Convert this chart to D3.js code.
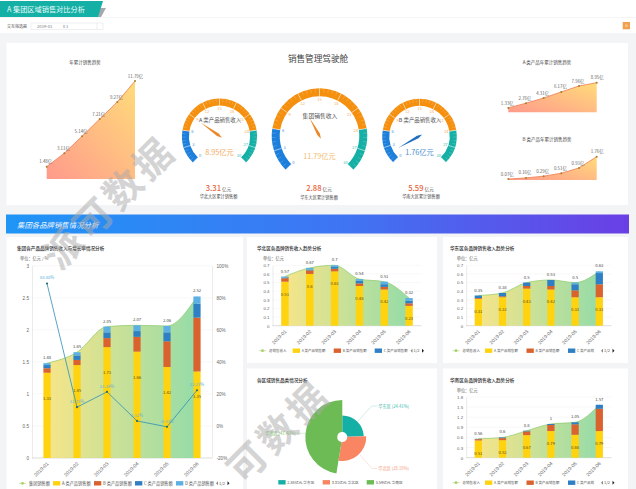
<!DOCTYPE html>
<html><head><meta charset="utf-8">
<script src="https://cdnjs.cloudflare.com/ajax/libs/d3/7.8.5/d3.min.js"></script>
<style>html,body{margin:0;padding:0;background:#f3f4f6;overflow:hidden}svg{display:block;font-family:"Noto Sans CJK SC","Noto Sans",sans-serif}</style>
</head><body><svg id="c" width="636" height="489"></svg>
<script>
const months=["2019-01","2019-02","2019-03","2019-04","2019-05","2019-06"];
const trendTotal=[1.48,3.11,5.14,7.21,9.27,11.79];
const trendTotalLabels=["1.48亿","3.11亿","5.14亿","7.21亿","9.27亿","11.79亿"];
const trendA=[1.33,2.76,4.31,6.17,7.96,8.95];
const trendALabels=["1.33亿","2.76亿","4.31亿","6.17亿","7.96亿","8.95亿"];
const trendB=[0.07,0.16,0.29,0.51,0.91,1.76];
const trendBLabels=["0.07亿","0.16亿","0.29亿","0.51亿","0.91亿","1.76亿"];
const gaugeTicks=[0,3,6,9,12,15,18,21,24,27,30];
const groupA=[1.33,1.45,1.73,1.66,1.42,1.35];
const groupB=[0.07,0.08,0.14,0.23,0.40,0.84];
const groupC=[0.05,0.07,0.09,0.09,0.14,0.22];
const groupD=[0.03,0.05,0.09,0.09,0.10,0.11];
const groupTotal=[1.48,1.65,2.05,2.07,2.06,2.52];
const groupRate=[88.88,11.73,21.29,3.12,-0.53,22.27];
const groupRateLabels=["88.88%","11.73%","21.29%","3.12%","-0.53%","22.27%"];
const northA=[0.51,0.6,0.63,0.46,0.42,0.23];
const northB=[0.04,0.04,0.03,0.03,0.03,0.03];
const northC=[0.01,0.01,0.02,0.03,0.03,0.03];
const northD=[0.01,0.02,0.02,0.02,0.03,0.03];
const northTotal=[0.57,0.67,0.7,0.54,0.51,0.32];
const eastA=[0.31,0.33,0.43,0.42,0.33,0.33];
const eastB=[0.01,0.01,0.03,0.04,0.08,0.15];
const eastC=[0.03,0.04,0.04,0.07,0.07,0.13];
const eastD=[0,0,0,0,0.02,0.02];
const eastTotal=[0.35,0.38,0.5,0.53,0.5,0.63];
const southA=[0.51,0.52,0.67,0.79,0.68,0.79];
const southB=[0.04,0.06,0.11,0.18,0.31,0.66];
const southC=[0.01,0.02,0.02,0.03,0.06,0.12];
const southTotal=[0.56,0.6,0.8,1,1.05,1.57];
const pieValues=[2.88,3.31,5.59];
const pieLabels=["华东区 (24.41%)","华北区 (28.19%)","华南区 (47.40%)"];
const pieLegend=["2.88亿元 华东区","3.31亿元 华北区","5.59亿元 华南区"];

const YEL="#ffd30f",RED="#d9622f",BLU="#2f7fc4",LBL="#5cb0e4",ORG="#f5900f",TEAL="#14b0a6",GBLU="#1d7fdc";
const svg=d3.select("#c"),defs=svg.append("defs");
const g0=defs.append("linearGradient").attr("id","trend").attr("x1",0).attr("x2",1).attr("y1",1).attr("y2",0);
g0.append("stop").attr("offset",0).attr("stop-color","#ff9a8c");g0.append("stop").attr("offset",1).attr("stop-color","#ffdc7a");
const g1=defs.append("linearGradient").attr("id","banner").attr("x1",0).attr("x2",1).attr("y1",0).attr("y2",0);
g1.append("stop").attr("offset",0).attr("stop-color","#1f95f6");g1.append("stop").attr("offset",.55).attr("stop-color","#3f74f2");g1.append("stop").attr("offset",1).attr("stop-color","#6a3fe5");
const g2=defs.append("linearGradient").attr("id","area").attr("x1",0).attr("x2",1).attr("y1",0).attr("y2",0);
g2.append("stop").attr("offset",0).attr("stop-color","#f5e27c").attr("stop-opacity",.9);g2.append("stop").attr("offset",1).attr("stop-color","#8fdaa4").attr("stop-opacity",.95);

function text(p,x,y,s,size,fill,anchor,weight){return p.append("text").attr("x",x).attr("y",y).text(s).attr("font-size",size).attr("fill",fill||"#444").attr("text-anchor",anchor||"start").attr("font-weight",weight||400);}
function rect(x,y,w,h,f){return svg.append("rect").attr("x",x).attr("y",y).attr("width",w).attr("height",h).attr("fill",f);}

// page frame
rect(0,0,636,33,"#fff");
rect(0,17.3,636,.6,"#eceef0");
svg.append("path").attr("d","M100,8 L106,8 L101,17 L96,17Z").attr("fill","#a5a9ad");
svg.append("path").attr("d","M0,1 L103,1 L98,17 L0,17Z").attr("fill",TEAL);
text(svg,7,12.4,"A 集团区域销售对比分析",7.2,"#e8fbfa");
text(svg,7,27.6,"交互筛选器",4,"#555");
rect(31,23,72,6.5,"#fff").attr("stroke","#dcdfe3").attr("stroke-width",.5);
svg.append("line").attr("x1",97).attr("x2",97).attr("y1",23).attr("y2",29.5).attr("stroke","#dcdfe3").attr("stroke-width",.5);
text(svg,37,28,"2019-01",4.2,"#777");
text(svg,63,28,"x 1",4,"#777");
rect(622.7,22,7.3,7.3,"#f0a050");
rect(625,24.3,2.7,2.7,"#f7c070");
rect(6.5,43,621.5,162,"#fff");
rect(6,214.5,623,19,"url(#banner)");
text(svg,17,228,"集团各品牌销售情况分析",7.4,"#eaf3ff").attr("font-style","italic");
rect(6.5,237,236.5,252,"#fff");
rect(247,237,190,126,"#fff");
rect(443,237,185,126,"#fff");
rect(247,368.5,190,120.5,"#fff");
rect(443,368.5,185,120.5,"#fff");

// trend areas
function trend(vals,labs,title,tx,ty,x0,x1,yTop,yBase,yMaxVal){
  const x=d3.scalePoint().domain(months).range([x0,x1]);
  const y=d3.scaleLinear().domain([0,yMaxVal]).range([yBase,yTop]);
  const idx=vals.map((v,i)=>i);
  svg.append("path").attr("d",d3.area().x(i=>x(months[i])).y0(yBase).y1(i=>y(vals[i]))(idx)).attr("fill","url(#trend)");
  svg.append("path").attr("d",d3.line().x(i=>x(months[i])).y(i=>y(vals[i]))(idx)).attr("fill","none").attr("stroke","#ec7a50").attr("stroke-width",.8);
  idx.forEach(i=>{
    svg.append("circle").attr("cx",x(months[i])).attr("cy",y(vals[i])).attr("r",1).attr("fill","#a87f28");
    text(svg,x(months[i])-1+(i==5?1.5:0),y(vals[i])-3.4,labs[i],4.4,"#666","middle");
  });
  text(svg,tx,ty,title,4.5,"#444","middle");
}
trend(trendTotal,trendTotalLabels,"年累计销售趋势",85,63.5,46.7,135,81,179,11.79);
trend(trendA,trendALabels,"A 类产品年累计销售趋势",547,63.7,508.3,596.7,82.7,112.3,8.95);
trend(trendB,trendBLabels,"B 类产品年累计销售趋势",547,140.7,508.3,596.7,156.7,180,1.76);

text(svg,318,61.5,"销售管理驾驶舱",8.6,"#444","middle");

// gauges
const gaugeAngle=d3.scaleLinear().domain([0,30]).range([-135,135]);
function gauge(cx,cy,R,w,val,title,valueText,valueColor,needleColor,titleY,valY,tsize,nLen){
  const rad=d=>d*Math.PI/180;
  const arc=d3.arc().innerRadius(R-w).outerRadius(R);
  [[0,6,GBLU],[6,24,ORG],[24,30,TEAL]].forEach(s=>{
    svg.append("path").attr("transform",`translate(${cx},${cy})`).attr("d",arc({startAngle:rad(gaugeAngle(s[0])),endAngle:rad(gaugeAngle(s[1]))})).attr("fill",s[2]);
  });
  d3.range(0,30.01,0.6).forEach(t=>{
    const a=rad(gaugeAngle(t)),major=Math.abs(t/3-Math.round(t/3))<1e-6,r0=major?R-w:R-w*.5;
    svg.append("line").attr("x1",cx+Math.sin(a)*r0).attr("y1",cy-Math.cos(a)*r0).attr("x2",cx+Math.sin(a)*R).attr("y2",cy-Math.cos(a)*R).attr("stroke","#fff").attr("stroke-width",major?.6:.3).attr("opacity",major?.95:.6);
  });
  gaugeTicks.forEach(t=>{
    const a=rad(gaugeAngle(t)),r=R-w-3;
    const c=t<=6?"#4a94dc":t>24?"#45bdb5":"#f5ad5a";
    text(svg,cx+Math.sin(a)*r,cy-Math.cos(a)*r+1.5,t,4,c,"middle");
  });
  const a=rad(gaugeAngle(val)),nw=1.5;
  const tip=[cx+Math.sin(a)*nLen,cy-Math.cos(a)*nLen];
  const base=[cx-Math.sin(a)*3,cy+Math.cos(a)*3];
  const mid=[cx+Math.sin(a)*2,cy-Math.cos(a)*2];
  const px=Math.cos(a)*nw,py=Math.sin(a)*nw;
  svg.append("path").attr("d",d3.line()([tip,[mid[0]+px,mid[1]+py],base,[mid[0]-px,mid[1]-py]])+"Z").attr("fill",needleColor);
  text(svg,cx+.5,titleY,title,tsize,"#555","middle");
  text(svg,cx,valY,valueText,7.2,valueColor,"middle");
}
gauge(219.5,136,37.5,7,8.95,"A 类产品销售收入","8.95亿元","#f5a860","#e98a2a",122,155,5.4,23);
gauge(319.5,136,47.8,8,11.79,"集团销售收入","11.79亿元","#f0bd70","#e98a2a",118,158.5,5.8,21);
gauge(419.5,136,37.2,7,1.76,"B 类产品销售收入","1.76亿元","#4a8fd0","#1f6fc0",122,155,5.4,24);

// KPI
function kpi(cx,v,name,yc){
  const t=svg.append("text").attr("x",cx).attr("y",191).attr("text-anchor","middle");
  t.append("tspan").text(v).attr("font-size",7.6).attr("fill","#e8643c").attr("font-weight",500);
  t.append("tspan").text(" 亿元").attr("font-size",4.6).attr("fill","#555");
  text(svg,cx,yc,name,4.2,"#444","middle");
}
kpi(218.5,"3.31","华北大区累计销售额",198);
kpi(319,"2.88","华东大区累计销售额",198.7);
kpi(421,"5.59","华南大区累计销售额",198);

// legends
function legendRow(items,y,x0,size){
  let x=x0;
  items.forEach(it=>{
    if(it.line){
      svg.append("line").attr("x1",x-1).attr("x2",x+6).attr("y1",y).attr("y2",y).attr("stroke",it.c).attr("stroke-width",.6);
      svg.append("circle").attr("cx",x+2.5).attr("cy",y).attr("r",1.4).attr("fill",it.c);
    } else rect(x,y-2.2,7.3,4.4,it.c);
    text(svg,x+(it.line?9:9),y+1.5,it.t,size,"#555");
    x+=it.w;
  });
}
function pager(x,y){
  svg.append("path").attr("d",`M${x+2},${y-2} L${x},${y} L${x+2},${y+2}Z`).attr("fill","#888");
  text(svg,x+3,y+1.5,"1/2",4,"#555");
  svg.append("path").attr("d",`M${x+11.5},${y-2} L${x+13.5},${y} L${x+11.5},${y+2}Z`).attr("fill","#222");
}
// stacked bars over a total area
function stacked(o){
  const g=svg.append("g");
  const x=d3.scaleBand().domain(months).range([o.x0,o.x1]).paddingInner(o.pad).paddingOuter(o.pad/2);
  const y=d3.scaleLinear().domain([0,o.max]).range([o.y0,o.y1]);
  text(g,o.tx,o.ty,o.title,4.6,"#222","start",500);
  text(g,o.ux,o.uy,o.unit,4.2,"#666");
  o.ticks.forEach(t=>{
    g.append("line").attr("x1",o.x0).attr("x2",o.x1).attr("y1",y(t)).attr("y2",y(t)).attr("stroke",t==0?"#bbb":"#f0f0f0").attr("stroke-width",.5);
  });
  const yAxis=g.append("g").attr("transform",`translate(${o.x0},0)`).call(d3.axisLeft(y).tickValues(o.ticks).tickSize(0).tickPadding(3).tickFormat(d=>d));
  yAxis.select(".domain").attr("stroke","#ccc").attr("stroke-width",.4);
  yAxis.selectAll("text").attr("font-size",o.fs).attr("fill","#666").attr("font-family","inherit");
  const cx=m=>x(m)+x.bandwidth()/2, idx=months.map((m,i)=>i);
  g.append("path").attr("d",d3.area().curve(d3.curveMonotoneX).x(i=>cx(months[i])).y0(o.y0).y1(i=>y(o.total[i]))(idx)).attr("fill","url(#area)");
  g.append("path").attr("d",d3.line().curve(d3.curveMonotoneX).x(i=>cx(months[i])).y(i=>y(o.total[i]))(idx)).attr("fill","none").attr("stroke","#8cc86a").attr("stroke-width",.7);
  idx.forEach(i=>{
    let b=0;
    o.series.forEach(s=>{
      const v=s.v[i];
      g.append("rect").attr("x",x(months[i])).attr("width",x.bandwidth()).attr("y",y(b+v)).attr("height",y(b)-y(b+v)).attr("fill",s.c);
      b+=v;
    });
    text(g,cx(months[i]),y(o.total[i])-4,o.total[i],4.2,"#444","middle");
    text(g,cx(months[i]),y(o.series[0].v[i])+o.labDy+1.5,o.series[0].v[i],4.2,"#5a5020","middle");
  });
  const xAxis=g.append("g").attr("transform",`translate(0,${o.y0})`).call(d3.axisBottom(x).tickSize(0).tickPadding(0));
  xAxis.select(".domain").remove();
  xAxis.selectAll("text").attr("font-size",5).attr("fill","#666").attr("font-family","inherit").attr("text-anchor","end").attr("dy",0)
    .attr("transform","translate(2,6) rotate(-45)");
  return {x,y,cx,g,idx};
}
const combo=stacked({x0:32,x1:212,y0:458,y1:265.7,max:3,ticks:[0,.5,1,1.5,2,2.5,3],
  total:groupTotal,series:[{v:groupA,c:YEL},{v:groupB,c:RED},{v:groupC,c:BLU},{v:groupD,c:LBL}],
  pad:.76,fs:4.6,tx:17,ty:250,title:"集团各产品品牌销售收入与增长率情况分析",ux:20,uy:260,unit:"单位：亿元 / %",labDy:25.5});
// right axis and rate line
const yR=d3.scaleLinear().domain([-20,100]).range([458,265.7]);
const rAxis=svg.append("g").attr("transform","translate(212,0)").call(d3.axisRight(yR).tickValues([-20,0,20,40,60,80,100]).tickSize(0).tickPadding(4.5).tickFormat(d=>d+"%"));
rAxis.select(".domain").attr("stroke","#ccc").attr("stroke-width",.4);
rAxis.selectAll("text").attr("font-size",4.6).attr("fill","#666").attr("font-family","inherit");
const rateLine=d3.line().x(i=>combo.cx(months[i])).y(i=>yR(groupRate[i]));
svg.append("path").attr("d",rateLine(combo.idx)).attr("fill","none").attr("stroke","#2b8fb8").attr("stroke-width",.8);
combo.idx.forEach(i=>{
  const px=combo.cx(months[i]),py=yR(groupRate[i]);
  svg.append("circle").attr("cx",px).attr("cy",py).attr("r",1.1).attr("fill","#2a6a70");
  text(svg,px,py-4.2,groupRateLabels[i],4.2,"#5ab0d8","middle");
});
legendRow([{t:"集团销售额",c:"#a8cf6a",line:1,w:33},{t:"A 类产品销售额",c:YEL,w:41},{t:"B 类产品销售额",c:RED,w:41},{t:"C 类产品销售额",c:BLU,w:41},{t:"D 类产品销售额",c:LBL,w:40}],483.3,20,4.2);
pager(216,483.3);

const ticks7=[0,.1,.2,.3,.4,.5,.6,.7];
stacked({x0:272.5,x1:421.5,y0:325.7,y1:265.3,max:.7,ticks:ticks7,total:northTotal,
  series:[{v:northA,c:YEL},{v:northB,c:RED},{v:northC,c:BLU},{v:northD,c:LBL}],pad:.7,fs:4.4,tx:257,ty:250,title:"华北区各品牌销售收入趋势分析",ux:263,uy:260,unit:"单位：亿元",labDy:12.5});
legendRow([{t:"总销售收入",c:"#a8cf6a",line:1,w:32.7},{t:"A 类产品销售额",c:YEL,w:41},{t:"B 类产品销售额",c:RED,w:41},{t:"C 类产品销售额",c:BLU,w:36}],350.7,260,3.5);
pager(410.5,350.7);
stacked({x0:466.2,x1:611.4,y0:325.7,y1:265.3,max:.7,ticks:ticks7,total:eastTotal,
  series:[{v:eastA,c:YEL},{v:eastB,c:RED},{v:eastC,c:BLU},{v:eastD,c:LBL}],pad:.7,fs:4.4,tx:450,ty:250,title:"华东区各品牌销售收入趋势分析",ux:456.7,uy:260,unit:"单位：亿元",labDy:12.5});
const eastLegend=[{t:"总销售收入",c:"#a8cf6a",line:1,w:31.5},{t:"A 类产品销售额",c:YEL,w:41.5},{t:"B 类产品销售额",c:RED,w:41.5},{t:"C 类产品销",c:BLU,w:30}];
legendRow(eastLegend,350.7,453.5,3.5);
pager(601,350.7);
stacked({x0:466.2,x1:611.4,y0:457.7,y1:397,max:1.8,ticks:[0,.3,.6,.9,1.2,1.5,1.8],total:southTotal,
  series:[{v:southA,c:YEL},{v:southB,c:RED},{v:southC,c:BLU}],pad:.7,fs:4.4,tx:450,ty:382,title:"华南区各品牌销售收入趋势分析",ux:456.7,uy:392,unit:"单位：亿元",labDy:12.5});
legendRow(eastLegend,482.7,453.5,3.5);
pager(601,482.7);

// rose pie
text(svg,257,382,"各区域销售品类情况分析",4.6,"#222","start",500);
const pieC=[342.3,437],pieCols=[TEAL,"#f98562","#6cbb54"];
const total=d3.sum(pieValues);
const rScale=d3.scaleLinear().domain([0,5.59]).range([5,37]);
const angleScale=d3.scaleLinear().domain([0,total]).range([0,2*Math.PI]);
pieValues.forEach((v,i)=>{
  const a0=angleScale(d3.sum(pieValues.slice(0,i))),a1=angleScale(d3.sum(pieValues.slice(0,i+1)));
  svg.append("path").attr("transform",`translate(${pieC})`).attr("d",d3.arc().innerRadius(5).outerRadius(rScale(v))({startAngle:a0,endAngle:a1})).attr("fill",pieCols[i]);
});
function leader(pts,c){svg.append("path").attr("d",d3.line()(pts)).attr("fill","none").attr("stroke",c).attr("stroke-width",.45).attr("opacity",.8);}
leader([[358,421],[371.7,406],[377.5,406]],"#7fd0c8");
leader([[360,455],[372,468.5],[377.5,468.5]],"#f5b9a5");
leader([[305,433.3],[296.5,433.3]],"#9ed08c");
text(svg,378.3,407.6,pieLabels[0],4.2,"#3bb8ae");
text(svg,378.3,470,pieLabels[1],4.2,"#f59a7c");
text(svg,265,435,pieLabels[2],4.2,"#6cbb54");
legendRow([{t:pieLegend[0],c:pieCols[0],w:44.4},{t:pieLegend[1],c:pieCols[1],w:44},{t:pieLegend[2],c:pieCols[2],w:44}],482.3,278.3,3.8);

// watermark
const wm=svg.append("g").attr("pointer-events","none");
[["派可数据",112,205],["可数据",281,434]].forEach(p=>{
  wm.append("text").attr("transform",`translate(${p[1]},${p[2]}) rotate(-45)`).attr("text-anchor","middle").attr("dominant-baseline","middle").attr("letter-spacing",4).attr("font-size",38).attr("font-weight",700).attr("fill","#aaa").attr("opacity",.5).text(p[0]);
});
</script></body></html>
